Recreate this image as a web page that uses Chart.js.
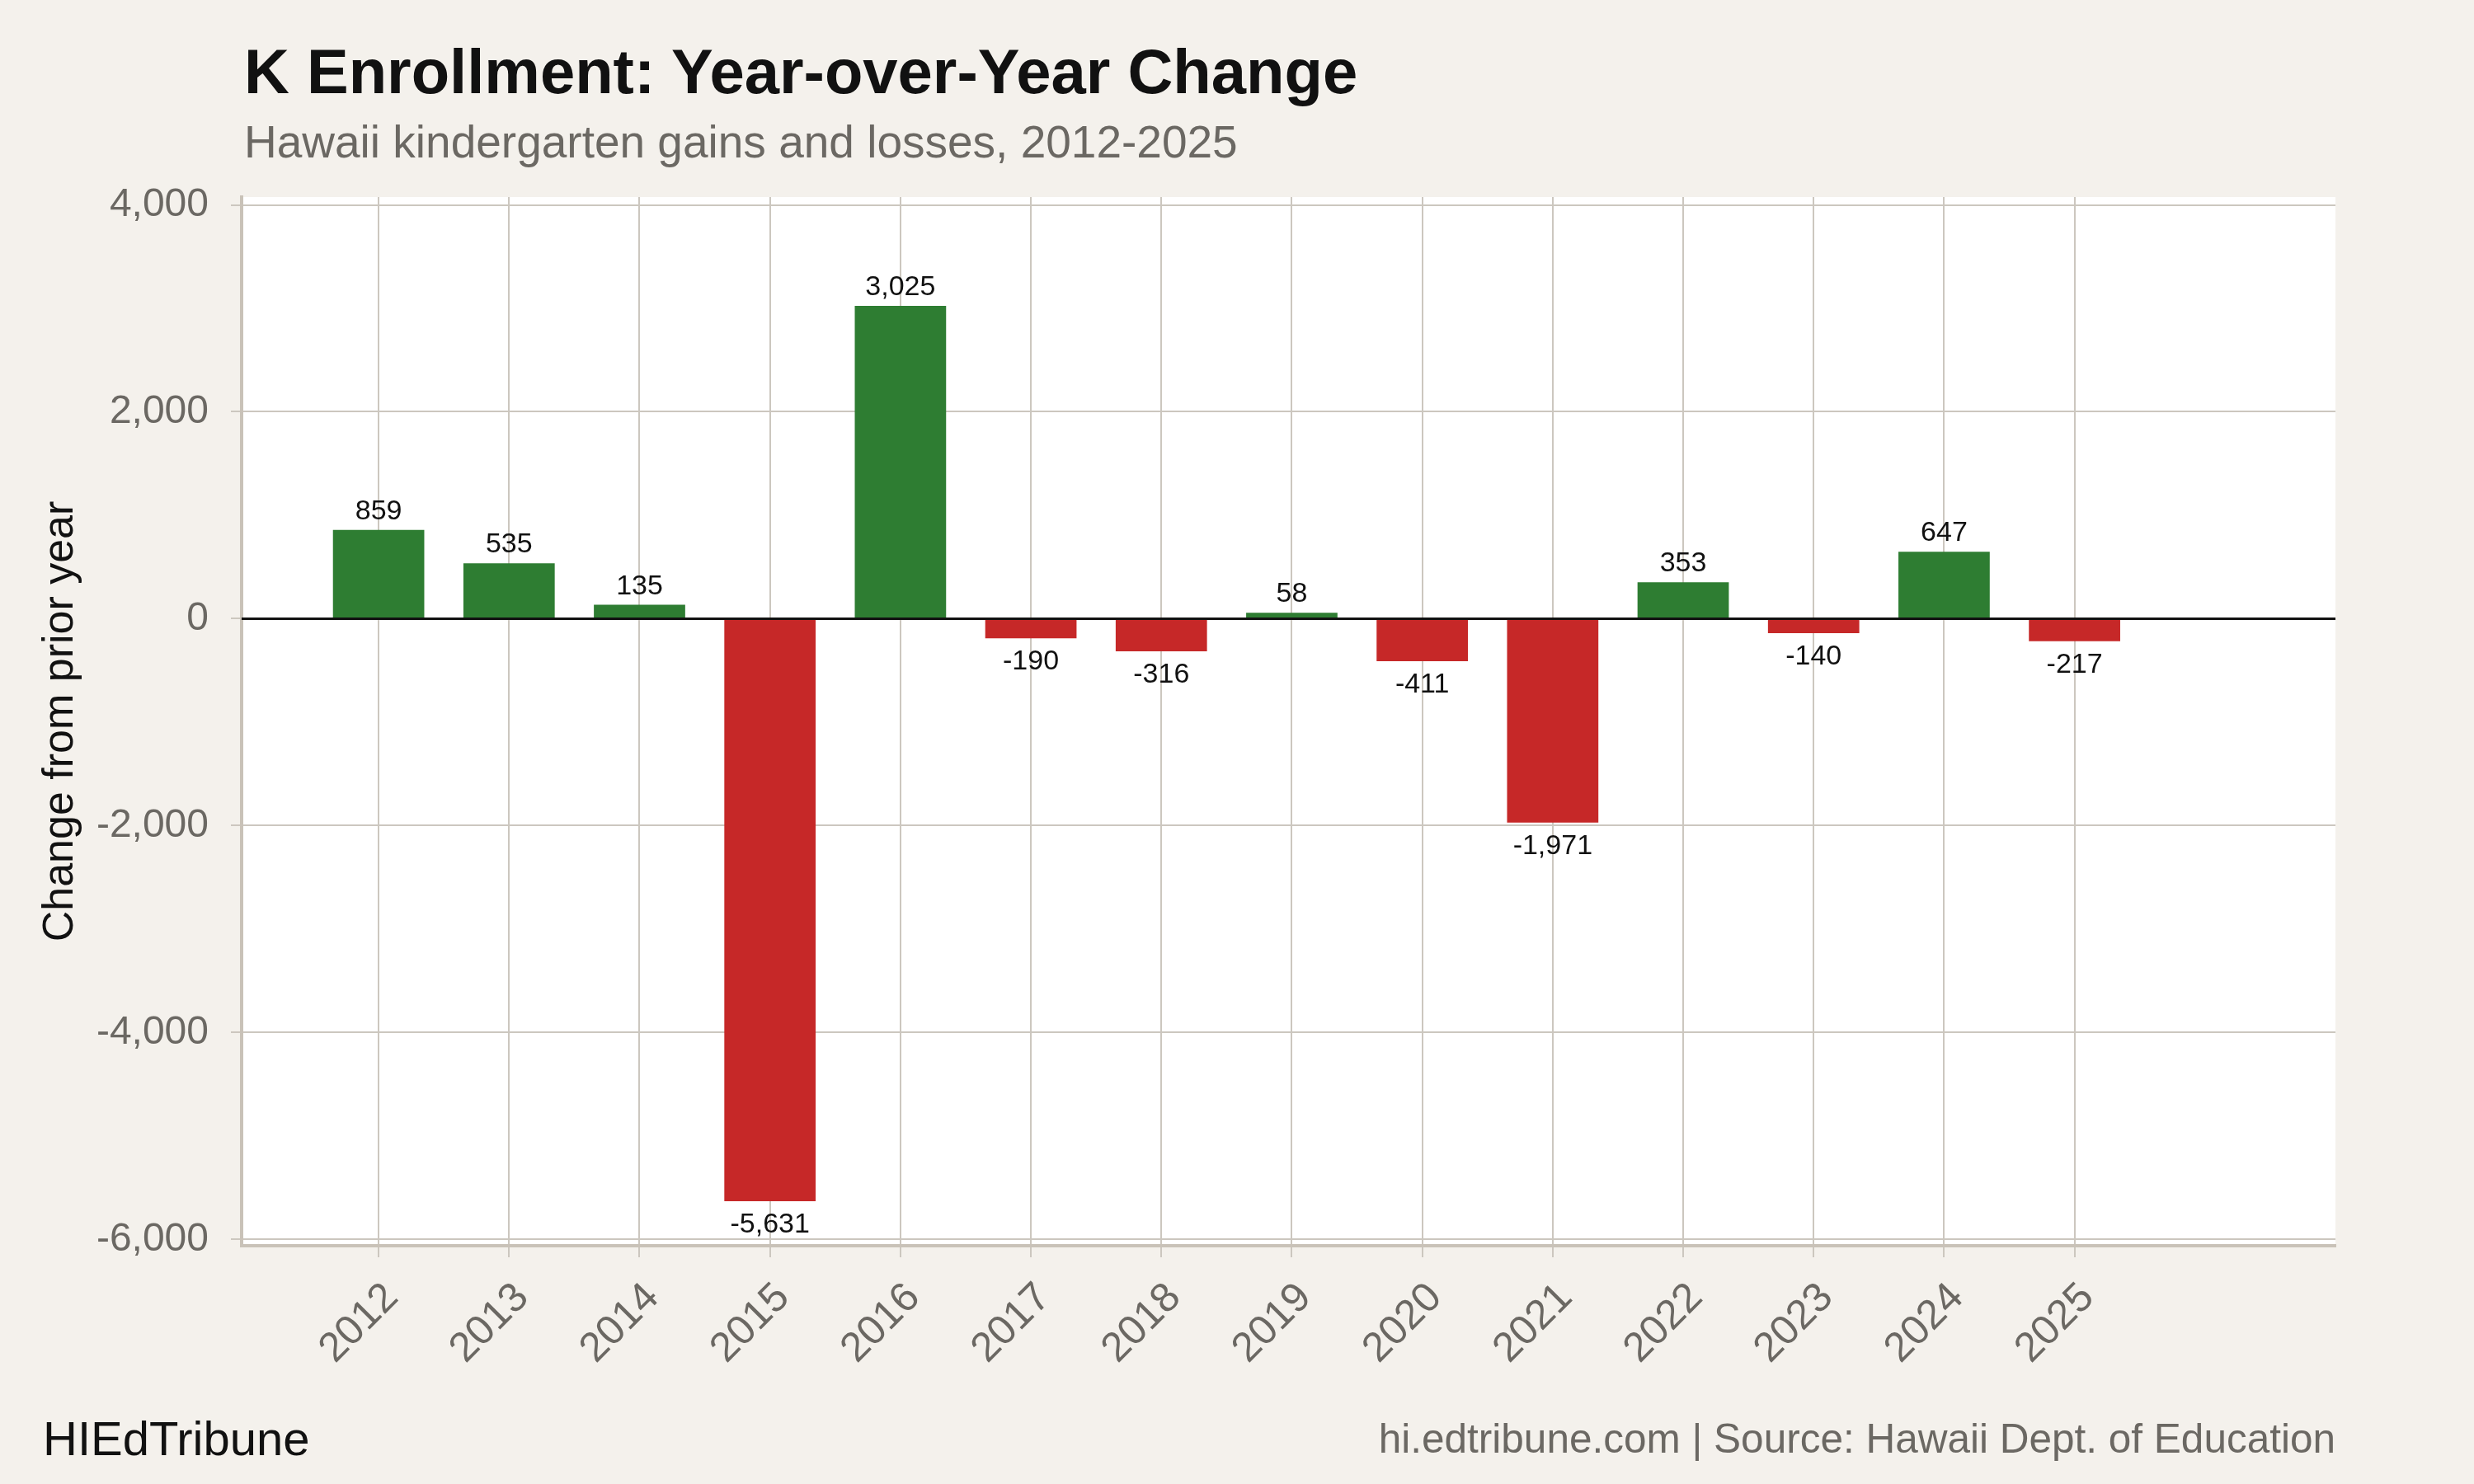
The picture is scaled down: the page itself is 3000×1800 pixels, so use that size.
<!DOCTYPE html>
<html>
<head>
<meta charset="utf-8">
<title>K Enrollment: Year-over-Year Change</title>
<script src="https://cdn.jsdelivr.net/npm/chart.js@4.4.1/dist/chart.umd.min.js"></script>
<style>
  html, body { margin: 0; padding: 0; background: #f4f1ec; }
  #wrap { position: relative; width: 3000px; height: 1800px; font-family: "Liberation Sans", Arial, sans-serif; }
  #canvas { position: absolute; left: 0; top: 0; }
  .txt { position: absolute; line-height: 1; white-space: nowrap; }
  #title { left: 296px; top: 49px; font-size: 76px; font-weight: bold; color: #111; }
  #subtitle { left: 296px; top: 145px; font-size: 55px; color: #6b6863; }
  #brand { left: 52px; top: 1716px; font-size: 58px; color: #111; }
  #source { right: 168px; top: 1720px; font-size: 49.5px; color: #6b6863; }
</style>
</head>
<body>
<div id="wrap">
  <canvas id="canvas" width="3000" height="1800"></canvas>
  <div class="txt" id="title">K Enrollment: Year-over-Year Change</div>
  <div class="txt" id="subtitle">Hawaii kindergarten gains and losses, 2012-2025</div>
  <div class="txt" id="brand">HIEdTribune</div>
  <div class="txt" id="source">hi.edtribune.com | Source: Hawaii Dept. of Education</div>
</div>
<script>
// data
var years = [2012, 2013, 2014, 2015, 2016, 2017, 2018, 2019, 2020, 2021, 2022, 2023, 2024, 2025];
var changes = [859, 535, 135, -5631, 3025, -190, -316, 58, -411, -1971, 353, -140, 647, -217];
var yTicks = [-6000, -4000, -2000, 0, 2000, 4000];

var green = '#2e7d32';
var red = '#c62828';
var gridColor = '#ccc7bf';
var axisColor = '#c9c2b8';
var tickText = '#6b6863';
var fontFamily = '"Liberation Sans", Arial, sans-serif';

function fmt(v) {
    return Number(v).toLocaleString('en-US');
}

// white panel behind the plot
var panelBg = {
    id: 'panelBg',
    beforeDraw: function (chart) {
        var a = chart.chartArea;
        chart.ctx.save();
        chart.ctx.fillStyle = '#ffffff';
        chart.ctx.fillRect(a.left, a.top, a.right - a.left, a.bottom - a.top);
        chart.ctx.restore();
    }
};

// black reference line at zero
var zeroLine = {
    id: 'zeroLine',
    afterDatasetsDraw: function (chart) {
        var a = chart.chartArea;
        var y = chart.scales.y.getPixelForValue(0);
        var ctx = chart.ctx;
        ctx.save();
        ctx.strokeStyle = '#111';
        ctx.lineWidth = 3;
        ctx.beginPath();
        ctx.moveTo(a.left, y);
        ctx.lineTo(a.right, y);
        ctx.stroke();
        ctx.restore();
    }
};

// value labels above / below bars
var valueLabels = {
    id: 'valueLabels',
    afterDatasetsDraw: function (chart) {
        var ctx = chart.ctx;
        var meta = chart.getDatasetMeta(0);
        ctx.save();
        ctx.font = '34px ' + fontFamily;
        ctx.fillStyle = '#111';
        ctx.textAlign = 'center';
        ctx.textBaseline = 'alphabetic';
        meta.data.forEach(function (bar, i) {
            var v = changes[i];
            if (v >= 0) {
                ctx.fillText(fmt(v), bar.x, bar.y - 13);
            } else {
                ctx.fillText(fmt(v), bar.x, bar.y + 38);
            }
        });
        ctx.restore();
    }
};

var config = {
    type: 'bar',
    data: {
        datasets: [{
            data: years.map(function (y, i) { return { x: y, y: changes[i] }; }),
            backgroundColor: changes.map(function (v) { return v >= 0 ? green : red; }),
            barPercentage: 0.7,
            categoryPercentage: 1.0
        }]
    },
    options: {
        responsive: false,
        animation: false,
        devicePixelRatio: 1,
        layout: { padding: { left: 38, top: 239, right: 168, bottom: 89 } },
        plugins: {
            legend: { display: false },
            tooltip: { enabled: false }
        },
        scales: {
            x: {
                type: 'linear',
                min: 2010.95,
                max: 2027,
                offset: false,
                afterBuildTicks: function (s) {
                    s.ticks = years.map(function (v) { return { value: v }; });
                },
                grid: {
                    offset: false,
                    color: gridColor,
                    lineWidth: 2,
                    tickLength: 14
                },
                border: { display: true, color: axisColor, width: 4 },
                ticks: {
                    autoSkip: false,
                    minRotation: 45,
                    maxRotation: 45,
                    labelOffset: 16,
                    padding: 20,
                    color: tickText,
                    font: { family: fontFamily, size: 50 },
                    callback: function (v) { return String(v); }
                },
                afterFit: function (s) { s.height = 200; }
            },
            y: {
                min: -6061,
                max: 4076,
                afterBuildTicks: function (s) {
                    s.ticks = yTicks.map(function (v) { return { value: v }; });
                },
                grid: {
                    color: function (c) { return c && c.tick && c.tick.value === 0 ? 'rgba(0,0,0,0)' : gridColor; },
                    tickColor: gridColor,
                    lineWidth: 2,
                    tickLength: 13
                },
                border: { display: true, color: axisColor, width: 4 },
                ticks: {
                    padding: 27,
                    color: tickText,
                    font: { family: fontFamily, size: 48 },
                    callback: function (v) { return fmt(v); }
                },
                title: {
                    display: true,
                    text: 'Change from prior year',
                    color: '#111',
                    font: { family: fontFamily, size: 52 },
                    padding: { top: 4, bottom: 0 }
                },
                afterFit: function (s) { s.width = 255; }
            }
        }
    },
    plugins: [panelBg, zeroLine, valueLabels]
};

window.onload = function () {
    window.myBar = new Chart(document.getElementById('canvas'), config);
};
</script>
</body>
</html>
